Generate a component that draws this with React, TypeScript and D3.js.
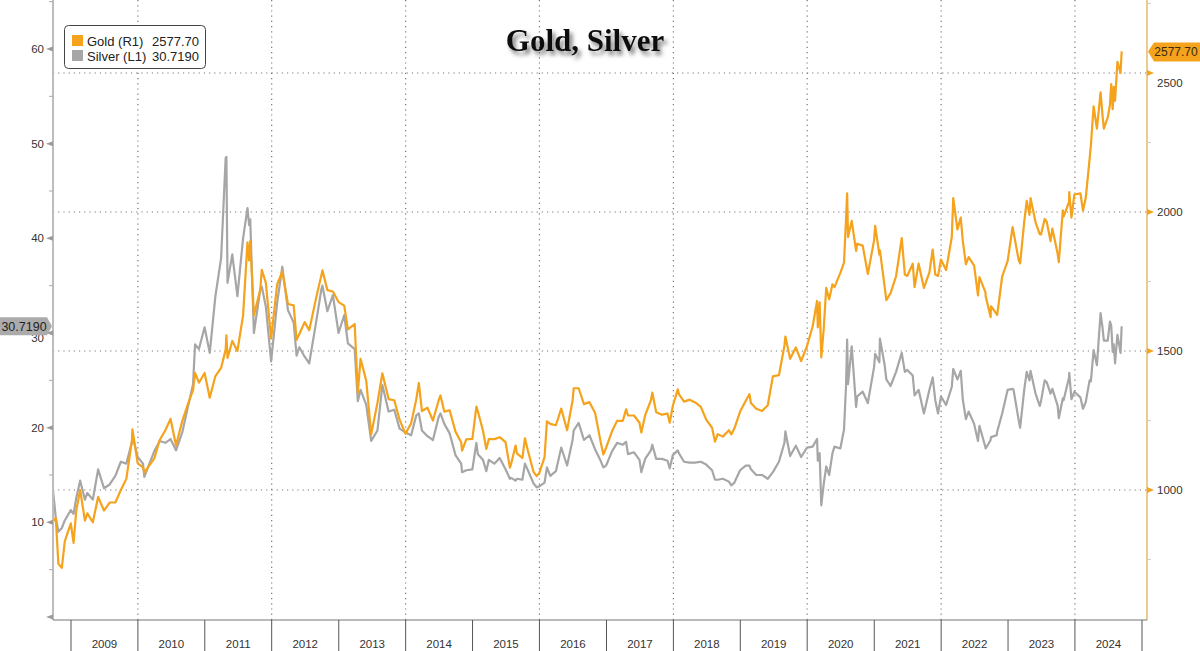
import React from "react";
import * as d3 from "d3";

// observation dates (month ends plus the main turning points)
const dates = [
  "2008-09-24", "2008-10-10", "2008-10-24", "2008-11-12", "2008-11-28", "2008-12-31",
  "2009-01-15", "2009-01-30", "2009-02-20", "2009-03-18", "2009-03-31", "2009-04-30", "2009-05-29", "2009-06-30", "2009-07-31", "2009-08-31", "2009-09-30", "2009-10-30", "2009-11-30", "2009-12-02", "2009-12-31",
  "2010-01-29", "2010-02-05", "2010-03-31", "2010-04-30", "2010-05-31", "2010-06-28", "2010-07-28", "2010-08-31", "2010-09-30", "2010-10-29", "2010-11-09", "2010-11-30", "2010-12-31",
  "2011-01-28", "2011-02-28", "2011-03-31", "2011-04-25", "2011-04-29", "2011-05-05", "2011-05-31", "2011-06-28", "2011-07-29", "2011-08-22", "2011-08-31", "2011-09-06", "2011-09-26", "2011-10-31", "2011-11-08", "2011-11-30", "2011-12-29",
  "2012-01-31", "2012-02-28", "2012-03-30", "2012-04-30", "2012-05-16", "2012-05-31", "2012-06-29", "2012-07-24", "2012-08-31", "2012-09-28", "2012-10-04", "2012-10-31", "2012-11-30", "2012-12-31",
  "2013-01-31", "2013-02-20", "2013-03-29", "2013-04-15", "2013-04-30", "2013-05-31", "2013-06-27", "2013-07-31", "2013-08-27", "2013-09-30", "2013-10-31", "2013-11-29", "2013-12-31",
  "2014-01-31", "2014-02-28", "2014-03-14", "2014-03-31", "2014-04-30", "2014-05-30", "2014-06-30", "2014-07-10", "2014-07-31", "2014-08-29", "2014-09-30", "2014-10-31", "2014-11-05", "2014-11-28", "2014-12-31",
  "2015-01-22", "2015-01-30", "2015-02-27", "2015-03-17", "2015-03-31", "2015-04-30", "2015-05-29", "2015-06-30", "2015-07-24", "2015-07-31", "2015-08-24", "2015-08-31", "2015-09-30", "2015-10-14", "2015-10-30", "2015-11-30", "2015-12-17", "2015-12-31",
  "2016-01-29", "2016-02-11", "2016-02-29", "2016-03-31", "2016-04-29", "2016-05-31", "2016-06-30", "2016-07-06", "2016-08-02", "2016-08-31", "2016-09-30", "2016-10-31", "2016-11-30", "2016-12-15", "2016-12-30",
  "2017-01-31", "2017-02-28", "2017-03-31", "2017-04-18", "2017-04-28", "2017-05-31", "2017-06-30", "2017-07-10", "2017-07-31", "2017-08-31", "2017-09-08", "2017-09-29", "2017-10-31", "2017-11-30", "2017-12-12", "2017-12-29",
  "2018-01-25", "2018-01-31", "2018-02-28", "2018-03-30", "2018-04-30", "2018-05-31", "2018-06-29", "2018-07-31", "2018-08-16", "2018-08-31", "2018-09-28", "2018-10-31", "2018-11-13", "2018-11-30", "2018-12-31",
  "2019-01-31", "2019-02-20", "2019-02-28", "2019-03-29", "2019-04-30", "2019-05-31", "2019-06-28", "2019-07-31", "2019-08-30", "2019-09-04", "2019-09-30", "2019-10-31", "2019-11-29", "2019-12-31",
  "2020-01-31", "2020-02-24", "2020-02-28", "2020-03-09", "2020-03-18", "2020-03-31", "2020-04-14", "2020-04-30", "2020-05-18", "2020-05-29", "2020-06-30", "2020-07-20", "2020-07-31", "2020-08-06", "2020-08-11", "2020-08-31", "2020-09-24", "2020-09-30", "2020-10-30", "2020-11-27", "2020-12-31",
  "2021-01-06", "2021-01-29", "2021-02-01", "2021-02-26", "2021-03-08", "2021-03-31", "2021-04-30", "2021-05-31", "2021-06-17", "2021-06-30", "2021-07-30", "2021-08-09", "2021-08-31", "2021-09-29", "2021-10-29", "2021-11-16", "2021-11-30", "2021-12-15", "2021-12-31",
  "2022-01-28", "2022-02-28", "2022-03-08", "2022-03-31", "2022-04-18", "2022-04-29", "2022-05-16", "2022-05-31", "2022-06-30", "2022-07-21", "2022-07-29", "2022-08-31", "2022-09-01", "2022-09-28", "2022-09-30", "2022-10-31", "2022-11-03", "2022-11-30", "2022-12-30",
  "2023-01-26", "2023-01-31", "2023-02-28", "2023-03-08", "2023-03-31", "2023-04-13", "2023-04-28", "2023-05-04", "2023-05-31", "2023-06-23", "2023-06-30", "2023-07-20", "2023-07-31", "2023-08-21", "2023-08-31", "2023-09-29", "2023-10-05", "2023-10-27", "2023-10-31", "2023-11-30", "2023-12-01", "2023-12-13", "2023-12-29",
  "2024-01-31", "2024-02-14", "2024-02-29", "2024-03-21", "2024-03-28", "2024-04-12", "2024-04-30", "2024-05-20", "2024-05-31", "2024-06-07", "2024-06-28", "2024-07-10", "2024-07-17", "2024-07-25", "2024-07-31", "2024-08-07", "2024-08-20", "2024-09-06", "2024-09-12",
];

// Gold (R1), USD/oz
const gold = [
  885, 900, 735, 720, 815, 880,
  810, 928, 1000, 890, 916, 884, 975, 926, 955, 955, 1000, 1040, 1180, 1218, 1096,
  1081, 1063, 1113, 1180, 1215, 1256, 1160, 1248, 1307, 1359, 1421, 1386, 1421,
  1332, 1410, 1439, 1505, 1556, 1475, 1536, 1500, 1628, 1891, 1826, 1895, 1628, 1722, 1792, 1746, 1545,
  1740, 1785, 1669, 1664, 1540, 1561, 1604, 1575, 1692, 1772, 1790, 1719, 1714, 1676,
  1663, 1578, 1597, 1350, 1472, 1393, 1200, 1313, 1420, 1327, 1323, 1253, 1202,
  1240, 1326, 1385, 1284, 1296, 1250, 1322, 1340, 1282, 1287, 1210, 1172, 1142, 1182, 1184,
  1300, 1283, 1213, 1148, 1183, 1183, 1190, 1172, 1080, 1095, 1160, 1132, 1115, 1186, 1142, 1065, 1050, 1061,
  1118, 1247, 1238, 1233, 1293, 1215, 1322, 1366, 1366, 1309, 1316, 1277, 1173, 1128, 1152,
  1211, 1249, 1249, 1290, 1268, 1268, 1242, 1207, 1269, 1322, 1350, 1280, 1271, 1275, 1242, 1303,
  1362, 1345, 1318, 1325, 1315, 1299, 1253, 1224, 1174, 1201, 1192, 1215, 1200, 1222, 1282,
  1321, 1345, 1313, 1292, 1284, 1305, 1409, 1413, 1520, 1552, 1472, 1513, 1464, 1517,
  1589, 1680, 1585, 1675, 1477, 1577, 1727, 1686, 1740, 1730, 1781, 1818, 1975, 2067, 1910, 1968, 1860, 1886, 1879, 1777, 1898,
  1950, 1847, 1862, 1734, 1683, 1708, 1769, 1906, 1775, 1770, 1814, 1730, 1814, 1727, 1783, 1865, 1775, 1770, 1829,
  1791, 1909, 2050, 1937, 1980, 1897, 1812, 1838, 1807, 1700, 1766, 1711, 1697, 1622, 1661, 1633, 1630, 1768, 1824,
  1946, 1928, 1827, 1815, 1969, 2040, 1990, 2050, 1963, 1920, 1919, 1975, 1965, 1895, 1940, 1849, 1820, 2006, 1983, 2036, 2072, 1980, 2063,
  2067, 2005, 2050, 2190, 2240, 2380, 2300, 2430, 2345, 2300, 2340, 2385, 2460, 2370, 2450, 2400, 2540, 2500, 2577.7,
];

// Silver (L1), USD/oz
const silver = [
  13.5, 10.5, 9.0, 9.4, 10.2, 11.3,
  10.9, 12.6, 14.4, 12.4, 13.1, 12.4, 15.6, 13.6, 14.0, 14.9, 16.4, 16.2, 18.5, 19.2, 16.9,
  16.2, 14.8, 17.5, 18.6, 18.4, 18.8, 17.6, 19.5, 22.1, 24.6, 28.8, 28.3, 30.6,
  27.9, 33.9, 37.9, 48.5, 48.6, 35.3, 38.3, 33.9, 40.0, 43.2, 41.4, 42.0, 30.0, 34.6, 34.9, 32.8, 27.0,
  33.2, 37.0, 32.4, 31.1, 27.6, 28.5, 27.5, 26.8, 31.2, 34.6, 35.0, 32.3, 34.0, 30.0,
  31.9, 28.9, 28.3, 22.8, 24.0, 22.4, 18.6, 19.7, 24.5, 21.7, 21.9, 19.9, 19.5,
  19.2, 21.3, 21.5, 19.7, 19.1, 18.7, 21.1, 21.5, 20.4, 19.4, 17.1, 16.2, 15.3, 15.5, 15.6,
  18.4, 17.2, 16.6, 15.4, 16.6, 16.2, 16.8, 15.6, 14.6, 14.7, 14.4, 14.6, 14.5, 16.2, 15.5, 14.1, 13.7, 13.8,
  14.2, 15.8, 14.9, 15.4, 17.9, 16.0, 18.7, 19.7, 20.5, 18.7, 19.2, 17.7, 16.5, 15.8, 16.0,
  17.5, 18.4, 18.2, 18.5, 17.2, 17.4, 16.6, 15.3, 16.7, 17.6, 18.2, 16.7, 16.7, 16.5, 15.7, 17.1,
  17.6, 17.3, 16.4, 16.3, 16.3, 16.4, 16.1, 15.5, 14.5, 14.5, 14.6, 14.3, 13.9, 14.2, 15.5,
  16.0, 16.0, 15.6, 15.0, 15.0, 14.6, 15.3, 16.4, 18.4, 19.6, 17.0, 18.1, 16.9, 17.9,
  18.0, 18.8, 16.5, 17.3, 11.8, 14.0, 15.9, 15.0, 17.3, 18.0, 17.8, 19.8, 24.4, 29.3, 24.6, 28.6, 22.2, 23.3, 23.8, 22.6, 26.4,
  27.8, 26.9, 29.4, 26.7, 25.1, 24.4, 25.9, 27.9, 25.9, 26.1, 25.5, 23.4, 24.0, 21.5, 24.0, 25.3, 22.9, 21.5, 23.3,
  22.4, 24.3, 26.2, 25.1, 26.0, 23.0, 20.9, 21.7, 20.4, 18.6, 20.2, 17.9, 17.8, 18.7, 19.0, 19.2, 19.6, 21.5, 24.0,
  24.1, 24.0, 20.8, 20.0, 24.1, 25.9, 25.0, 26.0, 23.6, 22.3, 22.8, 25.0, 24.8, 23.6, 24.1, 22.3, 21.0, 23.1, 22.9, 25.3, 25.8, 23.0, 23.8,
  23.2, 22.0, 22.7, 25.0, 24.9, 28.2, 26.6, 32.1, 30.5, 29.2, 29.2, 31.2, 30.8, 28.0, 28.8, 26.8, 29.8, 27.9, 30.719,
];

const years = d3.range(2009, 2025);
const leftTicks = [0, 10, 20, 30, 40, 50, 60];
const leftMinor = [5, 15, 25, 35, 45, 55, 65];
const rightTicks = [1000, 1500, 2000, 2500];
const rightMinor = [750, 1250, 1750, 2250, 2750];
const goldLast = "2577.70";
const silverLast = "30.7190";

const GOLD = "#F5A21C";
const SILVER = "#A6A6A6";
const SANS = "'Liberation Sans', Arial, sans-serif";

const W = 1200;
const H = 651;
const left = 53;
const right = 1147;
const bottom = 620;

const parse = d3.timeParse("%Y-%m-%d");

export default function App() {
  const n = Math.min(dates.length, gold.length, silver.length);
  if (dates.length !== gold.length || dates.length !== silver.length) {
    console.warn("length mismatch", dates.length, gold.length, silver.length);
  }
  const rows = d3.range(n).map(i => ({ date: parse(dates[i]) as Date, gold: gold[i], silver: silver[i] }));

  const x = d3.scaleTime()
    .domain([new Date(2009, 0, 1), new Date(2025, 0, 1)])
    .range([71, 1142]);
  const yL = d3.scaleLinear().domain([0, 60]).range([617, 49]);
  const yR = d3.scaleLinear().domain([1000, 2500]).range([490, 73]);

  const goldLine = d3.line<any>().x(d => x(d.date)).y(d => yR(d.gold));
  const silverLine = d3.line<any>().x(d => x(d.date)).y(d => yL(d.silver));

  const gY = yR(gold[n - 1]);
  const sY = yL(silver[n - 1]);

  const boundaries = d3.range(2009, 2026).map(y => new Date(y, 0, 1));
  const gridYears = boundaries.filter(d => d.getFullYear() % 2 === 0 && d.getFullYear() < 2025);

  return (
    <svg width={W} height={H} style={{ position: "absolute", left: 0, top: 0, background: "#fff" }}>
      <defs>
        <filter id="shadow" x="-20%" y="-40%" width="140%" height="200%">
          <feDropShadow dx="3" dy="4" stdDeviation="2.2" floodColor="#555" floodOpacity="0.75" />
        </filter>
        <clipPath id="plot">
          <rect x={left} y={0} width={right - left} height={bottom} />
        </clipPath>
      </defs>

      {/* dotted grid */}
      {gridYears.map((d, i) => (
        <line key={"vg" + i} x1={x(d)} x2={x(d)} y1={0} y2={bottom}
          stroke="#777" strokeWidth={1.2} strokeDasharray="1.2,4" />
      ))}
      {rightTicks.map(v => (
        <line key={"hg" + v} x1={left} x2={right} y1={yR(v)} y2={yR(v)}
          stroke="#777" strokeWidth={1.2} strokeDasharray="1.2,4" />
      ))}

      {/* series */}
      <g clipPath="url(#plot)">
        <path d={silverLine(rows) || ""} fill="none" stroke={SILVER} strokeWidth={2.2} strokeLinejoin="round" />
        <path d={goldLine(rows) || ""} fill="none" stroke={GOLD} strokeWidth={2.2} strokeLinejoin="round" />
      </g>

      {/* left axis */}
      <line x1={left} x2={left} y1={0} y2={bottom} stroke="#bdbdbd" strokeWidth={2} />
      {leftMinor.map(v => (
        <line key={"lm" + v} x1={left - 4} x2={left} y1={yL(v)} y2={yL(v)} stroke="#aaa" strokeWidth={1} />
      ))}
      {leftTicks.map(v => {
        const ty = yL(v);
        // push a label clear of the last-value tag, as the terminal does
        const shift = Math.abs(ty - sY) < 16 ? 18 - (ty - sY) - 6 : 0;
        return (
          <g key={"lt" + v}>
            <path d={`M${left},${ty - 2.5}L${left - 7},${ty}L${left},${ty + 2.5}Z`} fill="#9a9a9a" />
            {v > 0 && (
              <text x={44} y={ty + shift} dy="0.35em" textAnchor="end" fontFamily={SANS} fontSize={11.5} fill="#333">{v}</text>
            )}
          </g>
        );
      })}

      {/* right axis */}
      <line x1={right} x2={right} y1={0} y2={bottom} stroke="#EBCB8E" strokeWidth={2} />
      {rightMinor.map(v => (
        <line key={"rm" + v} x1={right} x2={right + 4} y1={yR(v)} y2={yR(v)} stroke="#ccc" strokeWidth={1} />
      ))}
      {rightTicks.map(v => {
        const ty = yR(v);
        const shift = Math.abs(ty - gY) < 24 ? 10 : 0;
        return (
          <g key={"rt" + v}>
            <path d={`M${right},${ty - 3}L${right + 7},${ty}L${right},${ty + 3}Z`} fill={GOLD} />
            <text x={1157} y={ty + shift} dy="0.35em" fontFamily={SANS} fontSize={11.5} fill="#333">{v}</text>
          </g>
        );
      })}

      {/* bottom axis */}
      <line x1={left} x2={right} y1={bottom} y2={bottom} stroke="#777" strokeWidth={1.2} />
      {boundaries.map((d, i) => (
        <line key={"yb" + i} x1={x(d)} x2={x(d)} y1={bottom} y2={H} stroke="#555" strokeWidth={1} />
      ))}
      {years.map(y => (
        <text key={"yl" + y} x={(x(new Date(y, 0, 1)) + x(new Date(y + 1, 0, 1))) / 2} y={648}
          textAnchor="middle" fontFamily={SANS} fontSize={11.5} fill="#333">{y}</text>
      ))}

      {/* last value tags */}
      <path d={`M${right + 1},${gY}L${right + 7},${gY - 9}L${W},${gY - 9}L${W},${gY + 10}L${right + 7},${gY + 10}Z`} fill={GOLD} />
      <text x={1176} y={gY + 0.5} dy="0.35em" textAnchor="middle" fontFamily={SANS} fontSize={12} fill="#3a2a10">{goldLast}</text>

      <path d={`M${left - 1},${sY}L${left - 6},${sY - 9}L0,${sY - 9}L0,${sY + 9}L${left - 6},${sY + 9}Z`} fill="#ABABAB" />
      <text x={24} y={sY} dy="0.35em" textAnchor="middle" fontFamily={SANS} fontSize={12.5} fill="#222">{silverLast}</text>

      {/* title */}
      <text x={585} y={51} textAnchor="middle" fontFamily="'Liberation Serif', 'Times New Roman', serif"
        fontWeight="bold" fontSize={31} fill="#111" filter="url(#shadow)">Gold, Silver</text>

      {/* legend */}
      <rect x={64.5} y={25.5} width={141} height={43} rx={4} fill="#fff" stroke="#444" strokeWidth={1} />
      <rect x={72} y={35} width={11} height={11} fill={GOLD} />
      <rect x={72} y={50} width={11} height={11} fill={SILVER} />
      <text x={87} y={46} fontFamily={SANS} fontSize={13} fill="#222">Gold (R1)</text>
      <text x={199} y={46} textAnchor="end" fontFamily={SANS} fontSize={13} fill="#222">{goldLast}</text>
      <text x={87} y={61} fontFamily={SANS} fontSize={13} fill="#222">Silver (L1)</text>
      <text x={199} y={61} textAnchor="end" fontFamily={SANS} fontSize={13} fill="#222">{silverLast}</text>
    </svg>
  );
}
